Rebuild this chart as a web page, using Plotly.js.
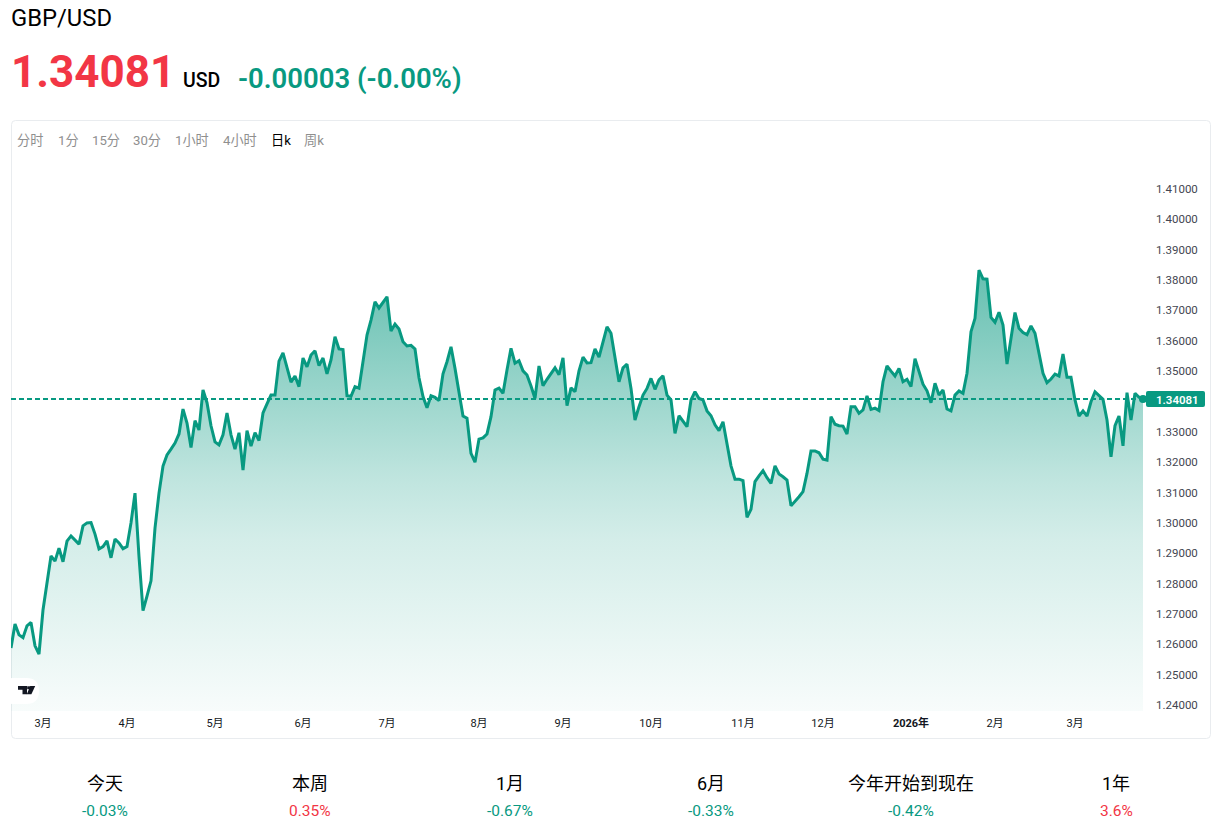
<!DOCTYPE html>
<html>
<head>
<meta charset="utf-8">
<script src="https://cdn.plot.ly/plotly-3.0.1.min.js"></script>
<style>html,body{margin:0;padding:0;background:#fff}#chart{width:1225px;height:827px}</style>
</head>
<body>
<div id="chart"></div>
<script>
const prices = [
1.2588,1.2667,1.2631,1.2622,1.2661,1.2672,1.2595,1.2568,1.2713,1.2795,
1.2891,1.2874,1.2917,1.2872,1.2940,1.2957,1.2944,1.2930,1.2990,1.3000,
1.3001,1.2963,1.2914,1.2922,1.2941,1.2885,1.2947,1.2934,1.2915,1.2922,
1.3000,1.3098,1.2889,1.2711,1.2759,1.2809,1.2983,1.3098,1.3187,1.3224,
1.3243,1.3263,1.3293,1.3375,1.3329,1.3248,1.3337,1.3306,1.3438,1.3396,
1.3320,1.3267,1.3257,1.3290,1.3362,1.3290,1.3243,1.3297,1.3174,1.3304,
1.3253,1.3297,1.3271,1.3362,1.3392,1.3421,1.3421,1.3533,1.3560,1.3507,
1.3464,1.3484,1.3449,1.3543,1.3514,1.3553,1.3567,1.3518,1.3543,1.3491,
1.3537,1.3613,1.3573,1.3571,1.3419,1.3417,1.3449,1.3444,1.3527,1.3619,
1.3668,1.3728,1.3708,1.3725,1.3745,1.3632,1.3655,1.3639,1.3597,1.3583,
1.3585,1.3573,1.3478,1.3416,1.3379,1.3419,1.3414,1.3403,1.3491,1.3531,
1.3580,1.3509,1.3432,1.3352,1.3345,1.3229,1.3200,1.3276,1.3280,1.3293,
1.3350,1.3438,1.3444,1.3427,1.3504,1.3575,1.3526,1.3534,1.3501,1.3487,
1.3451,1.3410,1.3517,1.3452,1.3473,1.3493,1.3511,1.3488,1.3544,1.3386,
1.3445,1.3432,1.3501,1.3546,1.3527,1.3528,1.3573,1.3546,1.3597,1.3646,
1.3625,1.3548,1.3465,1.3511,1.3523,1.3443,1.3339,1.3383,1.3421,1.3443,
1.3476,1.3440,1.3471,1.3485,1.3421,1.3405,1.3295,1.3353,1.3333,1.3317,
1.3405,1.3432,1.3410,1.3405,1.3369,1.3353,1.3323,1.3304,1.3333,1.3262,
1.3188,1.3144,1.3144,1.3139,1.3018,1.3045,1.3136,1.3155,1.3172,1.3149,
1.3130,1.3188,1.3161,1.3152,1.3141,1.3056,1.3070,1.3086,1.3103,1.3163,
1.3237,1.3237,1.3231,1.3210,1.3207,1.3350,1.3325,1.3320,1.3319,1.3293,
1.3383,1.3383,1.3361,1.3372,1.3418,1.3374,1.3378,1.3370,1.3465,1.3517,
1.3500,1.3484,1.3509,1.3465,1.3473,1.3449,1.3541,1.3498,1.3457,1.3435,
1.3396,1.3460,1.3421,1.3438,1.3375,1.3369,1.3421,1.3435,1.3427,1.3493,
1.3630,1.3674,1.3833,1.3804,1.3803,1.3677,1.3661,1.3694,1.3652,1.3523,
1.3603,1.3693,1.3641,1.3627,1.3620,1.3649,1.3625,1.3559,1.3493,1.3462,
1.3474,1.3490,1.3484,1.3556,1.3480,1.3480,1.3405,1.3352,1.3369,1.3352,
1.3399,1.3432,1.3418,1.3407,1.3339,1.3218,1.3320,1.3352,1.3254,1.3429,
1.3339,1.3427,1.3414,1.34081
];
const lastPrice = 1.34081;
const monthTickIndex = [8,29,51,73,94,117,138,160,183,203,225,246,266];
const monthTickLabels = ['3月','4月','5月','6月','7月','8月','9月','10月','11月','12月','<b>2026年</b>','2月','3月'];
const priceTicks = [1.24,1.25,1.26,1.27,1.28,1.29,1.30,1.31,1.32,1.33,1.35,1.36,1.37,1.38,1.39,1.40,1.41];
const intervalLabels = ['分时','1分','15分','30分','1小时','4小时','日k','周k'];
const statLabels = ['今天','本周','1月','6月','今年开始到现在','1年'];
const statValues = ['-0.03%','0.35%','-0.67%','-0.33%','-0.42%','3.6%'];

const W = 1225, H = 827;
const GREEN = '#089981', RED = '#f23645';
const FONT = 'Roboto, "Noto Sans CJK SC", sans-serif';
const px = x => x / W;
const py = y => 1 - y / H;
const dayIndex = prices.map((_, i) => i);

function roundRect(x0, y0, x1, y1, r) {
  return 'M' + px(x0 + r) + ',' + py(y0) + ' L' + px(x1 - r) + ',' + py(y0) +
    ' Q' + px(x1) + ',' + py(y0) + ' ' + px(x1) + ',' + py(y0 + r) +
    ' L' + px(x1) + ',' + py(y1 - r) +
    ' Q' + px(x1) + ',' + py(y1) + ' ' + px(x1 - r) + ',' + py(y1) +
    ' L' + px(x0 + r) + ',' + py(y1) +
    ' Q' + px(x0) + ',' + py(y1) + ' ' + px(x0) + ',' + py(y1 - r) +
    ' L' + px(x0) + ',' + py(y0 + r) +
    ' Q' + px(x0) + ',' + py(y0) + ' ' + px(x0 + r) + ',' + py(y0) + ' Z';
}
function poly(pts) {
  return 'M' + pts.map(p => px(p[0]) + ',' + py(p[1])).join(' L') + ' Z';
}
function paperShape(path, fill, line, layer) {
  return {type:'path', xref:'paper', yref:'paper', path, fillcolor:fill,
          line: line ? {color:line, width:1} : {width:0}, layer: layer || 'above'};
}
function txt(text, x, y, size, color, anchor, weight) {
  const a = anchor || 'left';
  return {text, x:px(a === 'left' ? x - 2 : x), y:py(y), xref:'paper', yref:'paper', showarrow:false,
          xanchor:a, yanchor:'middle',
          font:{family:FONT, size, color, weight:weight || 400}};
}

const intervalX = [17,58,92,133,175,223,271,304];
const statX = [105,310,510,711,911,1116];

const annotations = [
  txt('GBP/USD', 11, 18, 23.8, '#000000'),
  txt('1.34081', 11, 72, 44, RED, 'left', 700),
  txt('USD', 183, 80, 19.5, '#000000', 'left', 500),
  txt('-0.00003 (-0.00%)', 238, 78, 27.5, GREEN, 'left', 600),
  txt('1.34081', 1177, 399.5, 11.5, '#ffffff', 'center', 600)
];
intervalLabels.forEach((t, i) => {
  annotations.push(txt(t, intervalX[i], 140.5, 13.2, t === '日k' ? '#000000' : '#8f8f8f'));
});
statLabels.forEach((t, i) => {
  annotations.push(txt(t, statX[i], 783.5, 18, '#000000', 'center'));
  annotations.push(txt(statValues[i], statX[i], 811, 15.5,
    statValues[i].startsWith('-') ? GREEN : RED, 'center', 400));
});

const shapes = [
  paperShape(roundRect(11.5,120.5,1210.5,738.5,4), 'rgba(0,0,0,0)', '#e9ecef', 'below'),
  {type:'line', xref:'paper', yref:'y', x0:px(11), x1:px(1147), y0:lastPrice, y1:lastPrice,
   line:{color:GREEN, width:2, dash:'5px,3px'}, layer:'above'},
  paperShape(roundRect(1146,391,1205,407,2), GREEN),
  paperShape(roundRect(0,678,39,704,13), '#ffffff'),
  paperShape(poly([[18,686],[27,686],[27,694.2],[22.5,694.2],[22.5,689.8],[18,689.8]]), '#131722'),
  paperShape(poly([[27.2,686.3],[30,686.3],[30,689.2],[27.2,689.2]]), '#131722'),
  paperShape(poly([[30.2,686],[35.2,686],[31.4,694.2],[26.8,694.2]]), '#131722')
];

const data = [
  {x:dayIndex, y:prices, type:'scatter', mode:'lines',
   line:{color:GREEN, width:3, shape:'linear'}, fill:'tozeroy',
   fillgradient:{type:'vertical', start:1.238, stop:1.3833,
     colorscale:[[0,'rgba(8,153,129,0.03)'],[0.388,'rgba(8,153,129,0.174)'],
                 [0.535,'rgba(8,153,129,0.263)'],[0.955,'rgba(8,153,129,0.587)'],[1,'rgba(8,153,129,0.62)']]},
   hoverinfo:'skip', showlegend:false},
  {x:[dayIndex[dayIndex.length-1]], y:[lastPrice], type:'scatter', mode:'markers',
   marker:{color:GREEN, size:8}, cliponaxis:false, hoverinfo:'skip', showlegend:false}
];

const layout = {
  width:W, height:H, margin:{l:0,r:0,t:0,b:0},
  paper_bgcolor:'#ffffff', plot_bgcolor:'rgba(0,0,0,0)',
  font:{family:FONT, color:'#131722'}, showlegend:false,
  xaxis:{domain:[px(11),px(1143)], range:[0,283], tickmode:'array',
    tickvals:monthTickIndex, ticktext:monthTickLabels, showgrid:false, zeroline:false,
    showline:false, ticks:'', tickangle:0, ticklabelstandoff:4,
    tickfont:{family:FONT, size:11, color:'#131722'}},
  yaxis:{domain:[py(711),py(160)], range:[1.23802,1.41956], side:'right', tickmode:'array',
    tickvals:priceTicks, tickformat:'.5f', showgrid:false, zeroline:false, showline:false,
    ticks:'', ticklabelstandoff:12, tickfont:{family:FONT, size:11.5, color:'#434651'}},
  shapes, annotations
};
Plotly.newPlot('chart', data, layout, {staticPlot:true, displayModeBar:false});
</script>
</body>
</html>
